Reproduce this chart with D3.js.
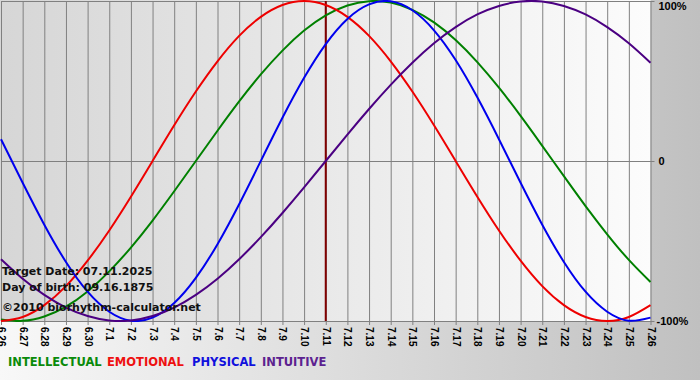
<!DOCTYPE html>
<html>
<head>
<meta charset="utf-8">
<script src="https://cdn.jsdelivr.net/npm/d3@7"></script>
<style>
  html, body { margin: 0; padding: 0; }
  svg { display: block; font-family: "DejaVu Sans", Verdana, sans-serif; font-weight: bold; }
</style>
</head>
<body>
<svg id="chart" width="700" height="380"></svg>
<script>
// day labels 6.26 .. 7.26
const days = ["6.26","6.27","6.28","6.29","6.30","7.1","7.2","7.3","7.4","7.5","7.6","7.7","7.8","7.9","7.10",
  "7.11","7.12","7.13","7.14","7.15","7.16","7.17","7.18","7.19","7.20","7.21","7.22","7.23","7.24","7.25","7.26"];
const targetDay = "7.11";

const physical = [0.136, -0.136, -0.398, -0.631, -0.817, -0.942, -0.998, -0.979, -0.888, -0.731, -0.520, -0.270, 0.000,
  0.270, 0.520, 0.731, 0.888, 0.979, 0.998, 0.942, 0.817, 0.631, 0.398, 0.136, -0.136, -0.398, -0.631, -0.817, -0.942,
  -0.998, -0.979];
const emotional = [-1.000, -0.975, -0.901, -0.782, -0.623, -0.434, -0.223, 0.000, 0.223, 0.434, 0.623, 0.782, 0.901,
  0.975, 1.000, 0.975, 0.901, 0.782, 0.623, 0.434, 0.223, 0.000, -0.223, -0.434, -0.623, -0.782, -0.901, -0.975,
  -1.000, -0.975, -0.901];
const intellectual = [-0.990, -0.999, -0.972, -0.910, -0.815, -0.690, -0.541, -0.372, -0.189, 0.000, 0.189, 0.372,
  0.541, 0.690, 0.815, 0.910, 0.972, 0.999, 0.990, 0.945, 0.866, 0.756, 0.618, 0.458, 0.282, 0.095, -0.095, -0.282,
  -0.458, -0.618, -0.756];
const intuitive = [-0.614, -0.736, -0.837, -0.916, -0.969, -0.997, -0.997, -0.969, -0.916, -0.837, -0.736, -0.614,
  -0.476, -0.325, -0.165, 0.000, 0.165, 0.325, 0.476, 0.614, 0.736, 0.837, 0.916, 0.969, 0.997, 0.997, 0.969, 0.916,
  0.837, 0.736, 0.614];

const yTicks = [1, 0, -1];
const yTickLabels = ["100%", "0", "-100%"];
const infoLines = ["Target Date: 07.11.2025", "Day of birth: 09.16.1875", "\u00a92010 biorhythm-calculator.net"];

const series = [
  { name: "INTELLECTUAL", values: intellectual, color: "#008000", legend: "#0a8a0a" },
  { name: "EMOTIONAL", values: emotional, color: "#ee0000", legend: "#ee1111" },
  { name: "PHYSICAL", values: physical, color: "#0000ee", legend: "#1111dd" },
  { name: "INTUITIVE", values: intuitive, color: "#4b0082", legend: "#5c2290" }
];

const plot = { left: 1, right: 650.5, top: 1, bottom: 321 };

const svg = d3.select("#chart");
const defs = svg.append("defs");

const outerGrad = defs.append("linearGradient").attr("id", "outerBg");
outerGrad.append("stop").attr("offset", "0%").attr("stop-color", "#f8f8f8");
outerGrad.append("stop").attr("offset", "100%").attr("stop-color", "#c0c0c0");

const plotGrad = defs.append("linearGradient").attr("id", "plotBg");
plotGrad.append("stop").attr("offset", "0%").attr("stop-color", "#d6d6d6");
plotGrad.append("stop").attr("offset", "100%").attr("stop-color", "#fcfcfc");

defs.append("clipPath").attr("id", "plotClip")
  .append("rect")
  .attr("x", 0).attr("y", 0)
  .attr("width", plot.right + 1).attr("height", plot.bottom + 1);

svg.append("rect").attr("width", 700).attr("height", 380).attr("fill", "url(#outerBg)");
svg.append("rect")
  .attr("x", 0).attr("y", 0)
  .attr("width", plot.right).attr("height", plot.bottom)
  .attr("fill", "url(#plotBg)");

const x = d3.scalePoint().domain(days).range([plot.left, plot.right]);
const y = d3.scaleLinear().domain([-1, 1]).range([plot.bottom, plot.top]);

// vertical grid + rotated day labels
const xAxis = d3.axisBottom(x).tickSize(plot.bottom - plot.top + 4).tickPadding(0);
const xAxisGroup = svg.append("g")
  .attr("transform", `translate(0,${plot.top})`)
  .call(xAxis);
xAxisGroup.select(".domain").remove();
xAxisGroup.selectAll(".tick line").attr("stroke", "#808080").attr("stroke-width", 1);
xAxisGroup.selectAll(".tick text")
  .attr("fill", "#000")
  .style("font-size", "10px")
  .style("font-weight", "bold")
  .attr("text-anchor", "start")
  .attr("transform", `translate(0,${plot.bottom - plot.top + 4}) rotate(90)`)
  .attr("x", 2).attr("y", 0).attr("dy", "0.35em");

// horizontal lines and right labels
const yAxis = d3.axisRight(y).tickValues(yTicks).tickSize(plot.right - plot.left + 4)
  .tickFormat((d, i) => yTickLabels[i]).tickPadding(4);
const yAxisGroup = svg.append("g")
  .attr("transform", `translate(${plot.left},0)`)
  .call(yAxis);
yAxisGroup.select(".domain").remove();
yAxisGroup.selectAll(".tick line").attr("stroke", "#808080").attr("stroke-width", 1);
yAxisGroup.selectAll(".tick text")
  .attr("fill", "#000")
  .style("font-size", "11px")
  .style("font-weight", "bold")
  .attr("dy", (d) => d === 1 ? "0.8em" : "0.32em");
yAxisGroup.selectAll(".tick").filter((d) => d === -1).select("text").attr("dx", -2);

// target day marker
svg.append("line")
  .attr("x1", x(targetDay)).attr("x2", x(targetDay))
  .attr("y1", plot.top).attr("y2", plot.bottom)
  .attr("stroke", "#800000").attr("stroke-width", 2);

// curves
const line = d3.line()
  .x((d, i) => x(days[i]))
  .y((d) => y(d))
  .curve(d3.curveNatural);

svg.append("g").attr("clip-path", "url(#plotClip)")
  .selectAll("path")
  .data(series)
  .join("path")
  .attr("d", (s) => line(s.values))
  .attr("fill", "none")
  .attr("stroke", (s) => s.color)
  .attr("stroke-width", 2);

// info text
svg.append("g").selectAll("text")
  .data(infoLines)
  .join("text")
  .attr("x", 2)
  .attr("y", (d, i) => [275, 291, 311][i])
  .attr("fill", "#111")
  .style("font-size", "11px")
  .text((d) => d);

// legend
const legendX = [8, 107, 192, 262];
svg.append("g").selectAll("text")
  .data(series)
  .join("text")
  .attr("x", (d, i) => legendX[i])
  .attr("y", 366)
  .attr("fill", (s) => s.legend)
  .style("font-size", "11.5px")
  .text((s) => s.name);
</script>
</body>
</html>
